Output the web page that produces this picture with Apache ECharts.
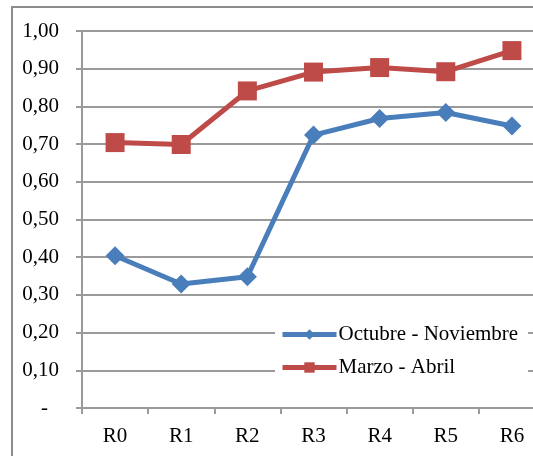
<!DOCTYPE html>
<html>
<head>
<meta charset="utf-8">
<script src="https://cdn.jsdelivr.net/npm/echarts@6/dist/echarts.min.js"></script>
<style>
  html, body { margin: 0; padding: 0; background: #fff; }
  #chart { width: 533px; height: 456px; }
</style>
</head>
<body>
<div id="chart"></div>
<script>
// Categories and series values
const categories = ['R0', 'R1', 'R2', 'R3', 'R4', 'R5', 'R6'];
const octNov = [0.404, 0.329, 0.348, 0.724, 0.768, 0.784, 0.748];
const marAbr = [0.704, 0.699, 0.841, 0.891, 0.903, 0.892, 0.948];
const seriesNames = ['Octubre - Noviembre', 'Marzo - Abril'];

const FONT = '"Liberation Serif", "Times New Roman", serif';
const FS = 21;
const gridGray = '#9a9a9a';

const chart = echarts.init(document.getElementById('chart'), null, { renderer: 'canvas' });

chart.setOption({
  backgroundColor: '#fff',
  animation: false,
  graphic: [{
    type: 'polyline',
    shape: { points: [[12, 460], [12, 7], [540, 7]] },
    style: { stroke: '#8c8c8c', lineWidth: 2, fill: null },
    z: 0
  }],
  // plot area runs past the right edge of the canvas
  grid: { left: 82, top: 31, width: 463, height: 377, containLabel: false, outerBoundsMode: 'none' },
  xAxis: {
    type: 'category',
    data: categories,
    boundaryGap: true,
    axisLine: { lineStyle: { color: gridGray, width: 2 } },
    axisTick: { show: true, length: 6, lineStyle: { color: gridGray, width: 2 } },
    axisLabel: { color: '#000', fontFamily: FONT, fontSize: FS, margin: 18 }
  },
  yAxis: {
    type: 'value',
    min: 0, max: 1, interval: 0.1,
    axisLine: { show: true, lineStyle: { color: gridGray, width: 2 } },
    axisTick: { show: true, length: 6, lineStyle: { color: gridGray, width: 2 } },
    splitLine: { show: true, lineStyle: { color: gridGray, width: 2 } },
    axisLabel: {
      color: '#000', fontFamily: FONT, fontSize: FS, margin: 23,
      formatter: v => v === 0 ? '{d|-}' : v.toFixed(2).replace('.', ','),
      rich: { d: { fontFamily: FONT, fontSize: FS, color: '#000', padding: [0, 11, 0, 0] } }
    }
  },
  legend: {
    orient: 'vertical',
    left: 275, top: 318,
    data: seriesNames,
    backgroundColor: '#fff',
    padding: [6, 10, 6, 5],
    itemWidth: 54, itemHeight: 13, itemGap: 12,
    lineStyle: { width: 5 },
    textStyle: { color: '#000', fontFamily: FONT, fontSize: FS, padding: [0, 0, 0, -3] }
  },
  series: [
    {
      name: seriesNames[0], type: 'line', data: octNov,
      symbol: 'diamond', symbolSize: 19,
      lineStyle: { color: '#4a7ebb', width: 5 },
      itemStyle: { color: '#4a7ebb' },
      z: 3
    },
    {
      name: seriesNames[1], type: 'line', data: marAbr,
      symbol: 'rect', symbolSize: 19,
      lineStyle: { color: '#be4b48', width: 5 },
      itemStyle: { color: '#be4b48' },
      z: 3
    }
  ]
});
</script>
</body>
</html>
